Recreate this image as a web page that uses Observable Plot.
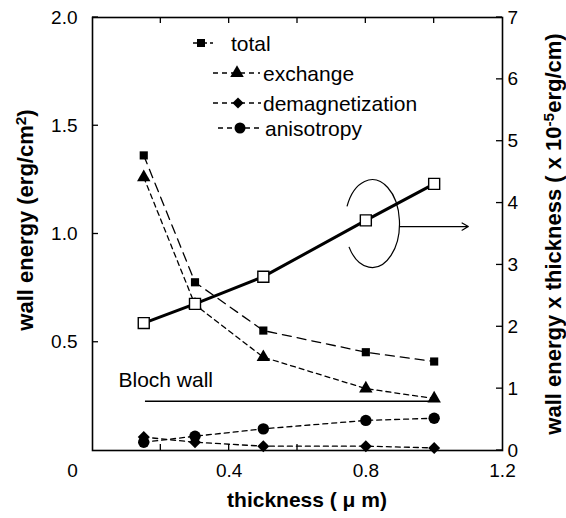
<!DOCTYPE html>
<html><head><meta charset="utf-8">
<script src="https://cdn.jsdelivr.net/npm/d3@7"></script>
<script src="https://cdn.jsdelivr.net/npm/@observablehq/plot@0.6"></script>
<style>
html,body{margin:0;padding:0;background:#fff;}
#chart{width:566px;height:518px;}
</style></head><body><div id="chart"></div>
<script>
// ---- data ----
const thickness = [0.15, 0.3, 0.5, 0.8, 1.0];            // µm
const total = [1.363, 0.777, 0.554, 0.454, 0.411];        // erg/cm2
const exchange = [1.262, 0.673, 0.431, 0.286, 0.240];
const demagnetization = [0.062, 0.038, 0.020, 0.020, 0.012];
const anisotropy = [0.038, 0.066, 0.100, 0.139, 0.149];
const totalTimesThickness = [2.06, 2.37, 2.81, 3.72, 4.31]; // x 1e-5 erg/cm (right axis)
const blochWall = [{x1: 0.155, x2: 1.0, y: 0.227}];
const blochLabel = [{x: 0.076, y: 0.292, text: "Bloch wall"}];
const leftTicks = [0.5, 1.0, 1.5, 2.0];
const rightTicks = [0, 1, 2, 3, 4, 5, 6, 7];
const xTickLabels = [0.4, 0.8, 1.2];
const xMinorTicks = [0.2, 0.4, 0.6, 0.8, 1.0];
const ellipse = {x: 0.82, y: 3.66, rx: 0.08, ry: 0.71}; // right-axis units
const arrow = [{x1: 0.90, x2: 1.10, y: 3.62}];
const R = 7 / 2; // right axis max / left axis max

const table = thickness.map((t, i) => ({
  t, total: total[i], exchange: exchange[i], demag: demagnetization[i],
  aniso: anisotropy[i], tt: totalTimesThickness[i] / R
}));

const W = 566, H = 518;
const FONT = "'Liberation Sans', Arial, Helvetica, sans-serif";

function innerTicks(index, s, v, dim) {
  const {marginLeft: ml, marginRight: mr, marginTop: mt, marginBottom: mb, width: w, height: h} = dim;
  const g = d3.create("svg:g").attr("stroke", "black").attr("stroke-width", 1.3);
  for (const t of leftTicks) { const y = s.y(t); g.append("line").attr("x1", ml).attr("x2", ml + 6).attr("y1", y).attr("y2", y); }
  for (const t of rightTicks) { const y = s.y(t / R); g.append("line").attr("x1", w - mr).attr("x2", w - mr - 6).attr("y1", y).attr("y2", y); }
  for (const t of xMinorTicks) {
    const x = s.x(t);
    g.append("line").attr("x1", x).attr("x2", x).attr("y1", h - mb).attr("y2", h - mb - 6);
    g.append("line").attr("x1", x).attr("x2", x).attr("y1", mt).attr("y2", mt + 6);
  }
  return g.node();
}

function ellipseArc(index, s) {
  const cx = s.x(ellipse.x), cy = s.y(ellipse.y / R);
  const rx = s.x(ellipse.x + ellipse.rx) - cx;
  const ry = cy - s.y((ellipse.y + ellipse.ry) / R);
  const t0 = 203 * Math.PI / 180, t1 = 508 * Math.PI / 180;
  const x0 = cx + rx * Math.cos(t0), y0 = cy + ry * Math.sin(t0);
  const x1 = cx + rx * Math.cos(t1), y1 = cy + ry * Math.sin(t1);
  const p = d3.create("svg:path")
    .attr("d", `M${x0},${y0}A${rx},${ry} 0 1 1 ${x1},${y1}`)
    .attr("fill", "none").attr("stroke", "black").attr("stroke-width", 1.2);
  return p.node();
}

const plot = Plot.plot({
  width: W, height: H,
  marginTop: 17, marginRight: 64, marginBottom: 68, marginLeft: 92,
  x: {domain: [0, 1.2]},
  y: {domain: [0, 2]},
  style: {fontFamily: FONT, fontSize: "19px", background: "white", color: "black"},
  marks: [
    Plot.axisY({anchor: "left", ticks: leftTicks, tickSize: 0, tickPadding: 15, tickFormat: d3.format(".1f"), fontSize: 19, label: null}),
    Plot.axisY({anchor: "right", ticks: rightTicks.map(t => t / R), tickSize: 0, tickPadding: 5, tickFormat: d => String(Math.round(d * R)), fontSize: 19, label: null}),
    Plot.axisX({ticks: xTickLabels, tickSize: 0, tickPadding: 13, tickFormat: d => String(d), fontSize: 19, label: null}),
    Plot.axisX({ticks: [0], tickSize: 0, tickPadding: 13, dx: -20, tickFormat: d => String(d), fontSize: 19, label: null}),
    innerTicks,
    Plot.ruleY(blochWall, {x1: "x1", x2: "x2", y: "y", stroke: "black", strokeWidth: 1.5}),
    Plot.text(blochLabel, {x: "x", y: "y", text: "text", textAnchor: "start", lineAnchor: "bottom", fontSize: 21}),
    Plot.line(table, {x: "t", y: "total", stroke: "black", strokeWidth: 1.3, strokeDasharray: "9,6"}),
    Plot.line(table, {x: "t", y: "exchange", stroke: "black", strokeWidth: 1.3, strokeDasharray: "5,4"}),
    Plot.line(table, {x: "t", y: "demag", stroke: "black", strokeWidth: 1.3, strokeDasharray: "5,4"}),
    Plot.line(table, {x: "t", y: "aniso", stroke: "black", strokeWidth: 1.3, strokeDasharray: "5,4"}),
    Plot.dot(table, {x: "t", y: "total", symbol: "square", r: 4.6, fill: "black", stroke: "none"}),
    Plot.dot(table, {x: "t", y: "exchange", symbol: "triangle", r: 5, fill: "black", stroke: "none"}),
    Plot.dot(table, {x: "t", y: "demag", symbol: "diamond2", r: 5.4, fill: "black", stroke: "none"}),
    Plot.dot(table, {x: "t", y: "aniso", symbol: "circle", r: 5.7, fill: "black", stroke: "none"}),
    Plot.line(table, {x: "t", y: "tt", stroke: "black", strokeWidth: 3}),
    Plot.dot(table, {x: "t", y: "tt", symbol: "square", r: 6.2, fill: "white", stroke: "black", strokeWidth: 1.4}),
    ellipseArc,
    Plot.arrow(arrow, {x1: "x1", x2: "x2", y1: d => d.y / R, y2: d => d.y / R, stroke: "black", strokeWidth: 1.2, headLength: 9, bend: 0}),
    Plot.frame({stroke: "black", strokeWidth: 1.6})
  ]
});

const svg = d3.select(plot);

// axis titles (baseline-positioned)
function title(x, y, rotate, size, parts) {
  const t = svg.append("text")
    .attr("transform", `translate(${x},${y})${rotate ? " rotate(-90)" : ""}`)
    .attr("text-anchor", "middle")
    .attr("font-family", FONT).attr("font-weight", "bold").attr("font-size", size).attr("fill", "black");
  let pendingDy = null;
  for (const p of parts) {
    if (typeof p === "object") {
      t.append("tspan").attr("dy", "-0.45em").attr("font-size", "0.7em").text(p.s);
      pendingDy = "0.32em";
    } else {
      const sp = t.append("tspan").text(p);
      if (pendingDy) { sp.attr("dy", pendingDy); pendingDy = null; }
    }
  }
}
title(33, 220, true, 22, ["wall energy (erg/cm", {s: "2"}, ")"]);
title(561, 234, true, 22, ["wall energy x thickness ( x 10", {s: "-5"}, "erg/cm)"]);
title(307, 507, false, 21, ["thickness ( \u03BC m)"]);

// legend
const legend = svg.append("g").attr("font-family", FONT).attr("font-size", 21).attr("text-anchor", "start");
const rows = [
  {label: "total", y: 43, lx0: 193, lx1: 213, sx: 201, dash: "14,3,7", sym: d3.symbolSquare, size: 64, tx: 231},
  {label: "exchange", y: 73, lx0: 213, lx1: 260, sx: 237, dash: "5,4", sym: d3.symbolTriangle, size: 80, tx: 263},
  {label: "demagnetization", y: 103, lx0: 213, lx1: 261, sx: 238, dash: "5,4", sym: d3.symbolDiamond2, size: 80, tx: 263},
  {label: "anisotropy", y: 128, lx0: 218, lx1: 263, sx: 240, dash: "5,4", sym: d3.symbolCircle, size: 95, tx: 265}
];
for (const r of rows) {
  legend.append("line").attr("x1", r.lx0).attr("x2", r.lx1).attr("y1", r.y).attr("y2", r.y)
    .attr("stroke", "black").attr("stroke-width", 1.3).attr("stroke-dasharray", r.dash);
  legend.append("path").attr("d", d3.symbol(r.sym, r.size)()).attr("transform", `translate(${r.sx},${r.y})`).attr("fill", "black");
  legend.append("text").attr("x", r.tx).attr("y", r.y + 8).attr("text-anchor", "start").text(r.label);
}

document.getElementById("chart").appendChild(plot);
</script>
</body></html>
